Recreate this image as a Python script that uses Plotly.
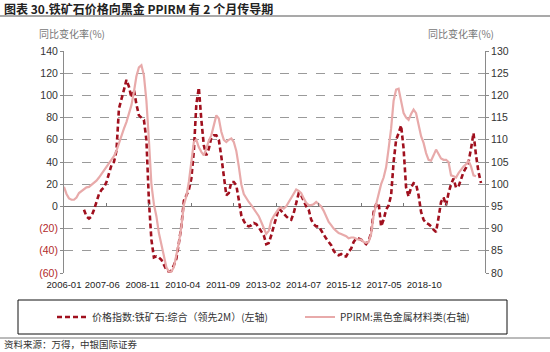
import plotly.graph_objects as go

# ---------------- data ----------------
# monthly, 2006-01 onward
start_year, start_month = 2006, 1

# 价格指数:铁矿石:综合 (领先2M) YoY %, starts 2006-09 (left axis)
iron_start = 8
iron_ore = [-3, -9, -11, -9, -3, 4, 11, 15, 17, 22, 30, 37, 40, 50, 88, 98, 105, 114, 108, 98,
            105, 92, 82, 80, 78, 60, 5, -30, -46, -45, -46, -48, -53, -57, -59, -58, -53, -47, -33, -18,
            5, 10, 15, 25, 50, 92, 107, 78, 55, 46, 52, 62, 64, 64, 60, 45, 28, 10, 12, 22,
            22, 19, 6, -8, -13, -17, -18, -17, -15, -16, -19, -23, -26, -34, -33, -26, -18, -12, -2, -4,
            -7, -9, -11, -12, -6, 2, 12, 10, 5, 0, -3, -12, -16, -18, -18, -22, -26, -29, -32, -35,
            -40, -43, -44, -43, -45, -45, -41, -38, -32, -29, -29, -30, -32, -34, -31, -24, -5, 2, 3, -18,
            -12, -3, 1, 10, 40, 60, 66, 73, 52, 17, 9, 17, 21, 20, 10, -5, -12, -15, -16, -18,
            -21, -23, -10, 4, 8, 1, 12, 20, 25, 17, 18, 24, 31, 35, 40, 52, 66, 46, 31, 21]

# PPIRM:黑色金属材料类 (right axis, previous year = 100), starts 2006-01
ppirm = [99.4, 97.8, 96.8, 96.5, 96.5, 97.0, 98.0, 98.5, 99.0, 99.3, 99.4, 99.8, 100.3, 100.8, 101.5, 102.3,
         103.0, 103.8, 104.5, 105.3, 106.3, 107.5, 109.3, 111.0, 112.5, 114.0, 115.8, 117.8, 120.8, 124.3, 126.3, 126.8,
         124.5, 118.8, 110.0, 100.0, 95.5, 92.8, 89.0, 86.3, 83.5, 81.3, 80.3, 80.3, 81.3, 83.8, 86.8, 90.5,
         95.3, 97.3, 100.5, 105.0, 109.5, 110.0, 108.3, 107.3, 106.5, 108.0, 109.8, 111.0, 113.5, 115.5, 114.8, 111.8,
         110.0, 109.5, 110.0, 110.3, 109.5, 107.5, 104.0, 100.0, 97.8, 96.8, 96.0, 95.3, 94.5, 93.8, 92.8, 91.5,
         90.0, 88.8, 89.5, 91.8, 92.8, 93.8, 94.5, 94.8, 94.5, 95.0, 96.0, 96.8, 98.0, 98.8, 98.5, 98.0,
         96.8, 95.8, 95.3, 95.3, 95.5, 96.0, 95.5, 95.0, 94.0, 92.8, 91.5, 90.8, 90.0, 89.5, 89.0, 88.8,
         88.5, 88.3, 87.8, 88.0, 88.0, 87.8, 87.5, 87.5, 87.0, 86.8, 87.0, 88.8, 93.0, 95.5, 98.0, 100.0,
         101.5, 103.8, 108.0, 112.5, 118.8, 121.3, 121.5, 118.8, 116.0, 115.0, 114.5, 115.8, 116.8, 116.0, 113.0, 110.8,
         109.3, 107.0, 105.5, 105.3, 106.5, 107.8, 106.8, 105.8, 105.5, 105.5, 105.0, 102.0, 101.8, 101.5, 102.5, 103.3,
         104.0, 104.5, 105.3, 104.0, 102.0, 101.8]

x_labels = ["2006-01", "2007-06", "2008-11", "2010-04", "2011-09",
            "2013-02", "2014-07", "2015-12", "2017-05", "2018-10"]
left_ticks = [-60, -40, -20, 0, 20, 40, 60, 80, 100, 120, 140]
right_ticks = [80, 85, 90, 95, 100, 105, 110, 115, 120, 125, 130]

name_iron = "价格指数:铁矿石:综合（领先2M）(左轴)"
name_ppirm = "PPIRM:黑色金属材料类(右轴)"
title = "图表 30.铁矿石价格向黑金 PPIRM 有 2 个月传导期"
source = "资料来源：万得，中银国际证券"
axis_title = "同比变化率(%)"

# ---------------- figure ----------------
W, H = 550, 352
px_x = lambda p: p / W
px_y = lambda p: 1 - p / H

iron_x = list(range(iron_start, iron_start + len(iron_ore)))
ppirm_x = list(range(len(ppirm)))
xmax = 168.6
label_pos = [max(0.0, k * 16.12 - 0.8) for k in range(len(x_labels))]
tick_pos = [17 * k for k in range(10)]

DARK_RED = "#A0101E"
PINK = "#E8AAAA"
SANS = "Liberation Sans, Arial, sans-serif"

def fmt_left(v):
    if v < 0:
        return f'<span style="color:#B22A2A">({abs(v)})</span>'
    return str(v)

fig = go.Figure()
fig.add_trace(go.Scatter(x=iron_x, y=iron_ore, mode="lines", name=name_iron,
                         line=dict(color=DARK_RED, width=2.6, dash="5px,3px"),
                         legendwidth=203, xaxis="x", yaxis="y"))
fig.add_trace(go.Scatter(x=ppirm_x, y=ppirm, mode="lines", name=name_ppirm,
                         line=dict(color=PINK, width=2.2),
                         legendwidth=140, xaxis="x", yaxis="y2"))
# helper trace so the zero-line tick axis gets drawn
fig.add_trace(go.Scatter(x=[0], y=[None], xaxis="x2", yaxis="y", showlegend=False,
                         hoverinfo="skip"))

dom_x = [px_x(64), px_x(485)]
dom_y = [px_y(273), px_y(51)]
zero_frac = dom_y[0] + (0 - (-60)) / 200 * (dom_y[1] - dom_y[0])

fig.update_layout(
    width=W, height=H,
    margin=dict(l=0, r=0, t=0, b=0, autoexpand=False),
    paper_bgcolor="white", plot_bgcolor="white",
    font=dict(family=SANS, size=10, color="#333"),
    xaxis=dict(domain=dom_x, range=[0, xmax], tickvals=label_pos, ticktext=x_labels,
               tickangle=0, showgrid=False, zeroline=False, showline=False, ticks="",
               tickfont=dict(family=SANS, size=9.5, color="#222"), ticklabelstandoff=4,
               automargin=False),
    xaxis2=dict(overlaying="x", anchor="free", position=zero_frac, range=[0, xmax],
                tickvals=tick_pos, showticklabels=False, ticks="inside", ticklen=3,
                tickcolor="#777", showline=False, showgrid=False, zeroline=False),
    yaxis=dict(domain=dom_y, range=[-60, 140], tickvals=left_ticks,
               ticktext=[fmt_left(v) for v in left_ticks],
               showgrid=True, gridcolor="#9a9a9a", griddash="dash", gridwidth=1,
               zeroline=True, zerolinecolor="#7a7a7a", zerolinewidth=1,
               showline=True, linecolor="#8a8a8a", linewidth=1,
               ticks="outside", ticklen=3, tickcolor="#8a8a8a",
               tickfont=dict(family=SANS, size=10.5, color="#333"), automargin=False),
    yaxis2=dict(overlaying="y", side="right", anchor="x", range=[80, 130], tickvals=right_ticks,
                showgrid=False, zeroline=False, showline=True, linecolor="#8a8a8a", linewidth=1,
                ticks="outside", ticklen=3, tickcolor="#8a8a8a",
                tickfont=dict(family=SANS, size=10.5, color="#333"), automargin=False),
    showlegend=True,
    legend=dict(orientation="h", x=px_x(52), xanchor="left", y=px_y(317), yanchor="middle",
                bgcolor="rgba(0,0,0,0)", borderwidth=0,
                font=dict(family="Noto Sans CJK SC", size=10, color="#333"),
                itemwidth=30),
)

shapes = [
    # title underline
    dict(type="line", xref="paper", yref="paper", x0=0, x1=1, y0=px_y(16), y1=px_y(16),
         line=dict(color="#555", width=1.2)),
    # legend frame
    dict(type="rect", xref="paper", yref="paper", x0=px_x(18), x1=px_x(507),
         y0=px_y(334), y1=px_y(300), line=dict(color="#111", width=1)),
    # footer line
    dict(type="line", xref="paper", yref="paper", x0=0, x1=1, y0=px_y(338), y1=px_y(338),
         line=dict(color="#777", width=1)),
]
fig.update_layout(shapes=shapes)

annotations = [
    dict(text=f"<b>{title}</b>", xref="paper", yref="paper", x=px_x(2), y=px_y(9),
         xanchor="left", yanchor="middle", showarrow=False,
         font=dict(family="Noto Sans CJK SC", size=12, color="#222")),
    dict(text=axis_title, xref="paper", yref="paper", x=px_x(72), y=px_y(33),
         xanchor="center", yanchor="middle", showarrow=False,
         font=dict(family="Noto Sans CJK SC", size=10, color="#777")),
    dict(text=axis_title, xref="paper", yref="paper", x=px_x(461), y=px_y(33),
         xanchor="center", yanchor="middle", showarrow=False,
         font=dict(family="Noto Sans CJK SC", size=10, color="#777")),
    dict(text=source, xref="paper", yref="paper", x=px_x(2), y=px_y(344),
         xanchor="left", yanchor="middle", showarrow=False,
         font=dict(family="Noto Sans CJK SC", size=9.5, color="#333")),
]
fig.update_layout(annotations=annotations)

fig.write_html("out.html")
